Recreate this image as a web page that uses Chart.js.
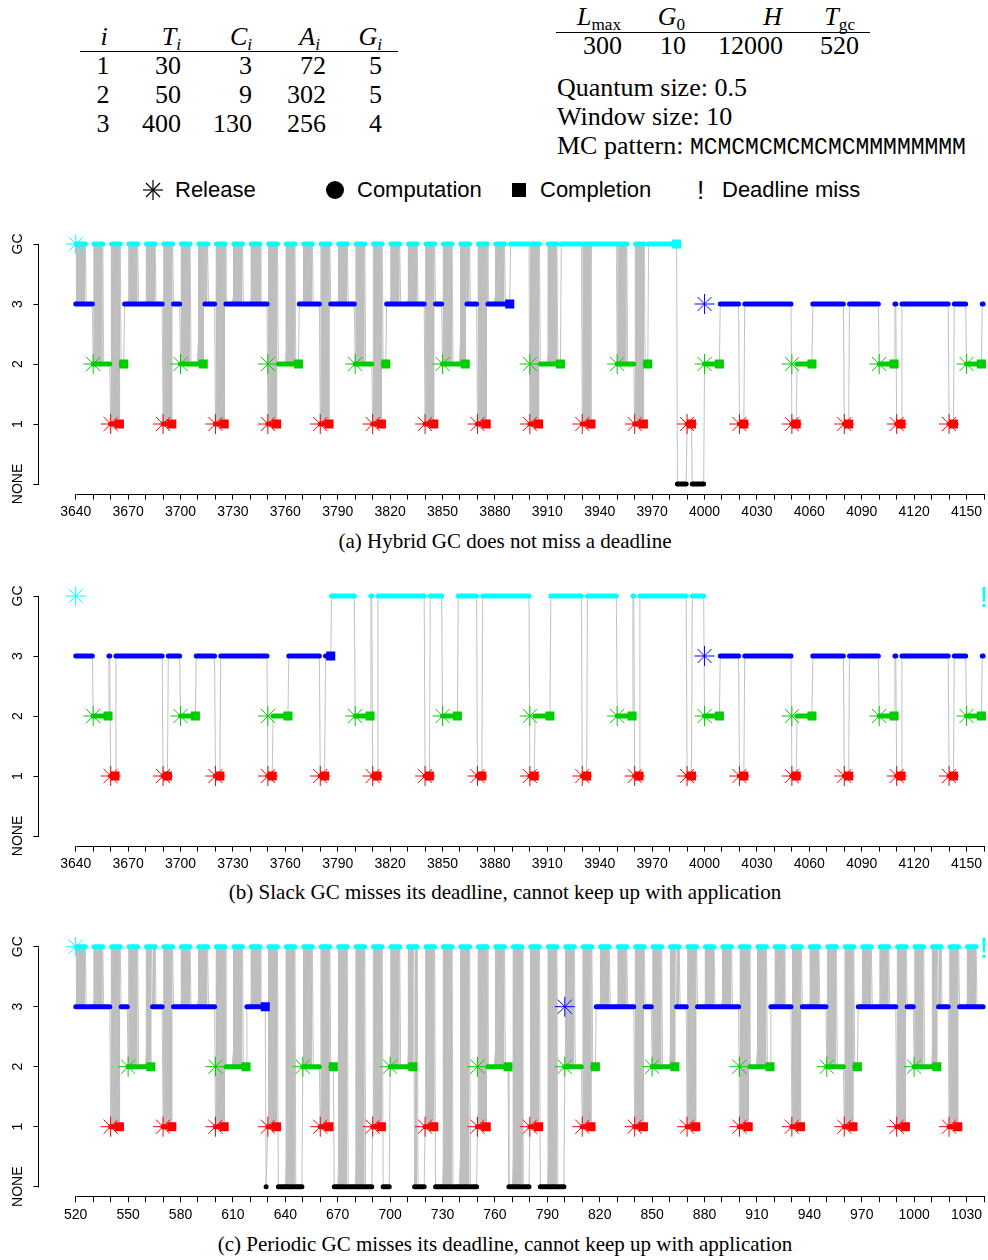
<!DOCTYPE html>
<html>
<head>
<meta charset="utf-8">
<title>GC schedules</title>
<script src="https://cdn.jsdelivr.net/npm/chart.js@4.4.1/dist/chart.umd.min.js"></script>
<style>
  html, body { margin: 0; padding: 0; background: #fff; }
  body { width: 988px; height: 1260px; position: relative; overflow: hidden;
         font-family: "Liberation Serif", "Times New Roman", serif; color: #000; }
  .t { position: absolute; white-space: nowrap; line-height: 1; font-size: 26px; }
  .r { transform: translateX(-100%); }
  .c { transform: translateX(-50%); }
  .rule { position: absolute; height: 0; border-top: 1.3px solid #000; }
  .panel { position: absolute; left: 0; }
  .cap { position: absolute; left: 0; width: 1010px; text-align: center; font-size: 21px; line-height: 1; }
  .lg { position: absolute; font-family: "Liberation Sans", Arial, sans-serif; font-size: 22px; line-height: 1; white-space: nowrap; }
  sub { font-size: 0.66em; vertical-align: -0.28em; line-height: 0; }
  .mono { font-family: "Liberation Mono", monospace; font-size: 23px; }
</style>
</head>
<body>

<!-- task table -->
<div class="t c" style="left:104px;top:24px"><i>i</i></div>
<div class="t r" style="left:181px;top:24px"><i>T<sub>i</sub></i></div>
<div class="t r" style="left:252px;top:24px"><i>C<sub>i</sub></i></div>
<div class="t r" style="left:320px;top:24px"><i>A<sub>i</sub></i></div>
<div class="t r" style="left:382px;top:24px"><i>G<sub>i</sub></i></div>
<div class="rule" style="left:80px;top:51px;width:318px"></div>
<div id="taskRows"></div>

<!-- GC parameter table -->
<div class="t r" style="left:621px;top:4px"><i>L</i><sub>max</sub></div>
<div class="t r" style="left:685px;top:4px"><i>G</i><sub>0</sub></div>
<div class="t r" style="left:782px;top:4px"><i>H</i></div>
<div class="t r" style="left:855px;top:4px"><i>T</i><sub>gc</sub></div>
<div class="rule" style="left:556px;top:32px;width:314px"></div>
<div id="gcRow"></div>

<div class="t" style="left:557px;top:75px">Quantum size: 0.5</div>
<div class="t" style="left:557px;top:104px">Window size: 10</div>
<div class="t" style="left:557px;top:133px">MC pattern: <span class="mono" id="mcPattern"></span></div>

<!-- legend -->
<svg style="position:absolute;left:142px;top:179px" width="22" height="22">
  <g stroke="#000" stroke-width="1.2">
    <line x1="1" y1="11" x2="21" y2="11"/><line x1="11" y1="1" x2="11" y2="21"/>
    <line x1="4" y1="4" x2="18" y2="18"/><line x1="4" y1="18" x2="18" y2="4"/>
  </g>
</svg>
<div class="lg" style="left:175px;top:179px">Release</div>
<svg style="position:absolute;left:325px;top:180px" width="20" height="20"><circle cx="10" cy="10" r="9" fill="#000"/></svg>
<div class="lg" style="left:357px;top:179px">Computation</div>
<svg style="position:absolute;left:512px;top:183px" width="14" height="14"><rect x="0" y="0" width="14" height="14" fill="#000"/></svg>
<div class="lg" style="left:540px;top:179px">Completion</div>
<div class="lg" style="left:697px;top:177px;font-size:26px">!</div>
<div class="lg" style="left:722px;top:179px">Deadline miss</div>

<div class="panel" style="top:224px"><canvas id="chartA" width="988" height="300"></canvas></div>
<div class="cap" style="top:531px">(a) Hybrid GC does not miss a deadline</div>
<div class="panel" style="top:576px"><canvas id="chartB" width="988" height="300"></canvas></div>
<div class="cap" style="top:882px">(b) Slack GC misses its deadline, cannot keep up with application</div>
<div class="panel" style="top:927px"><canvas id="chartC" width="988" height="300"></canvas></div>
<div class="cap" style="top:1234px">(c) Periodic GC misses its deadline, cannot keep up with application</div>

<script>
// ---- table data ----
const taskIds = [1, 2, 3];
const periods = [30, 50, 400];
const costs = [3, 9, 130];
const allocs = [72, 302, 256];
const gcShares = [5, 5, 4];
const gcParams = [300, 10, 12000, 520];   // Lmax, G0, H, Tgc
const quantum = 0.5;
const mcPattern = 'MCMCMCMCMCMCMMMMMMMM';

// ---- schedule levels ----
const GC = 4, NONE = 0;
const yTickLabels = ['NONE', '1', '2', '3', 'GC'];
const levelColors = ['#000000', '#ff0000', '#00cd00', '#0000ff', '#00ffff'];

// x tick labels
const xLabelsAB = [3640, 3670, 3700, 3730, 3760, 3790, 3820, 3850, 3880, 3910, 3940, 3970, 4000, 4030, 4060, 4090, 4120, 4150];
const xLabelsC = [520, 550, 580, 610, 640, 670, 700, 730, 760, 790, 820, 850, 880, 910, 940, 970, 1000, 1030];
const xEndAB = 4160, xEndC = 1040, minorStep = 10;

// trace runs: [start, end, level] or [start, end, mutator level, 'alt'] (alternating with GC)
const traceA = [
  [3640, 3646, 3, 'alt'], [3646, 3650, 3],
  [3650, 3656, 2, 'alt'], [3656, 3660, 2],
  [3660, 3666, 1, 'alt'], [3666, 3668, 2], [3668, 3670, 3],
  [3670, 3676, 3, 'alt'], [3676, 3680, 3],
  [3680, 3686, 3, 'alt'], [3686, 3690, 3],
  [3690, 3696, 1, 'alt'], [3696, 3700, 3],
  [3700, 3706, 2, 'alt'], [3706, 3710, 2],
  [3710, 3714, 2, 'alt'], [3714, 3716, 3, 'alt'], [3716, 3720, 3],
  [3720, 3726, 1, 'alt'], [3726, 3730, 3],
  [3730, 3736, 3, 'alt'], [3736, 3740, 3],
  [3740, 3746, 3, 'alt'], [3746, 3750, 3],
  [3750, 3756, 1, 'alt'], [3756, 3760, 2],
  [3760, 3766, 2, 'alt'], [3766, 3768, 2], [3768, 3770, 3],
  [3770, 3776, 3, 'alt'], [3776, 3780, 3],
  [3780, 3786, 1, 'alt'], [3786, 3790, 3],
  [3790, 3796, 3, 'alt'], [3796, 3800, 3],
  [3800, 3806, 2, 'alt'], [3806, 3810, 2],
  [3810, 3816, 1, 'alt'], [3816, 3818, 2], [3818, 3820, 3],
  [3820, 3826, 3, 'alt'], [3826, 3830, 3],
  [3830, 3836, 3, 'alt'], [3836, 3840, 3],
  [3840, 3846, 1, 'alt'], [3846, 3850, 3],
  [3850, 3856, 2, 'alt'], [3856, 3860, 2],
  [3860, 3864, 2, 'alt'], [3864, 3866, 3, 'alt'], [3866, 3870, 3],
  [3870, 3876, 1, 'alt'], [3876, 3880, 3],
  [3880, 3886, 3, 'alt'], [3886, 3889, 3], [3889, 3900, 4],
  [3900, 3906, 1, 'alt'], [3906, 3910, 2],
  [3910, 3916, 2, 'alt'], [3916, 3918, 2], [3918, 3930, 4],
  [3930, 3936, 1, 'alt'], [3936, 3950, 4],
  [3950, 3956, 2, 'alt'], [3956, 3960, 2],
  [3960, 3966, 1, 'alt'], [3966, 3968, 2], [3968, 3984.5, 4], [3984.5, 3990, 0],
  [3990, 3993, 1], [3993, 4000, 0],
  [4000, 4009, 2], [4009, 4020, 3], [4020, 4023, 1], [4023, 4050, 3], [4050, 4053, 1],
  [4053, 4062, 2], [4062, 4080, 3], [4080, 4083, 1], [4083, 4100, 3], [4100, 4109, 2],
  [4109, 4110, 3], [4110, 4113, 1], [4113, 4140, 3], [4140, 4143, 1], [4143, 4150, 3],
  [4150, 4159, 2], [4159, 4160, 3]
];

const traceB = [
  [3640, 3650, 3], [3650, 3659, 2], [3659, 3660, 3], [3660, 3663, 1], [3663, 3690, 3],
  [3690, 3693, 1], [3693, 3700, 3], [3700, 3709, 2], [3709, 3720, 3], [3720, 3723, 1],
  [3723, 3750, 3], [3750, 3753, 1], [3753, 3762, 2], [3762, 3780, 3], [3780, 3783, 1],
  [3783, 3786.5, 3], [3786.5, 3800, 4], [3800, 3809, 2], [3809, 3810, 4], [3810, 3813, 1],
  [3813, 3840, 4], [3840, 3843, 1], [3843, 3850, 4], [3850, 3859, 2], [3859, 3870, 4],
  [3870, 3873, 1], [3873, 3900, 4], [3900, 3903, 1], [3903, 3912, 2], [3912, 3930, 4],
  [3930, 3933, 1], [3933, 3950, 4], [3950, 3959, 2], [3959, 3960, 4], [3960, 3963, 1],
  [3963, 3990, 4], [3990, 3993, 1], [3993, 4000, 4],
  [4000, 4009, 2], [4009, 4020, 3], [4020, 4023, 1], [4023, 4050, 3], [4050, 4053, 1],
  [4053, 4062, 2], [4062, 4080, 3], [4080, 4083, 1], [4083, 4100, 3], [4100, 4109, 2],
  [4109, 4110, 3], [4110, 4113, 1], [4113, 4140, 3], [4140, 4143, 1], [4143, 4150, 3],
  [4150, 4159, 2], [4159, 4160, 3]
];

const traceC = [
  [520, 526, 3, 'alt'], [526, 530, 3],
  [530, 536, 3, 'alt'], [536, 540, 3],
  [540, 546, 1, 'alt'], [546, 550, 3],
  [550, 556, 2, 'alt'], [556, 560, 2],
  [560, 564, 2, 'alt'], [564, 566, 3, 'alt'], [566, 570, 3],
  [570, 576, 1, 'alt'], [576, 580, 3],
  [580, 586, 3, 'alt'], [586, 590, 3],
  [590, 596, 3, 'alt'], [596, 600, 3],
  [600, 606, 1, 'alt'], [606, 610, 2],
  [610, 616, 2, 'alt'], [616, 618, 2], [618, 620, 3],
  [620, 626, 3, 'alt'], [626, 629, 3], [629, 630, 0],
  [630, 636, 1, 'alt'], [636, 640, 0],
  [640, 646, 0, 'alt'], [646, 650, 0],
  [650, 656, 2, 'alt'], [656, 660, 2],
  [660, 666, 1, 'alt'], [666, 668, 2], [668, 670, 0],
  [670, 676, 0, 'alt'], [676, 680, 0],
  [680, 686, 0, 'alt'], [686, 690, 0],
  [690, 696, 1, 'alt'], [696, 700, 0],
  [700, 706, 2, 'alt'], [706, 710, 2],
  [710, 714, 2, 'alt'], [714, 716, 0, 'alt'], [716, 720, 0],
  [720, 726, 1, 'alt'], [726, 730, 0],
  [730, 736, 0, 'alt'], [736, 740, 0],
  [740, 746, 0, 'alt'], [746, 750, 0],
  [750, 756, 1, 'alt'], [756, 760, 2],
  [760, 766, 2, 'alt'], [766, 768, 2], [768, 770, 0],
  [770, 776, 0, 'alt'], [776, 780, 0],
  [780, 786, 1, 'alt'], [786, 790, 0],
  [790, 796, 0, 'alt'], [796, 800, 0],
  [800, 806, 2, 'alt'], [806, 810, 2],
  [810, 816, 1, 'alt'], [816, 818, 2], [818, 820, 3],
  [820, 826, 3, 'alt'], [826, 830, 3],
  [830, 836, 3, 'alt'], [836, 840, 3],
  [840, 846, 1, 'alt'], [846, 850, 3],
  [850, 856, 2, 'alt'], [856, 860, 2],
  [860, 864, 2, 'alt'], [864, 866, 3, 'alt'], [866, 870, 3],
  [870, 876, 1, 'alt'], [876, 880, 3],
  [880, 886, 3, 'alt'], [886, 890, 3],
  [890, 896, 3, 'alt'], [896, 900, 3],
  [900, 906, 1, 'alt'], [906, 910, 2],
  [910, 916, 2, 'alt'], [916, 918, 2], [918, 920, 3],
  [920, 926, 3, 'alt'], [926, 930, 3],
  [930, 936, 1, 'alt'], [936, 940, 3],
  [940, 946, 3, 'alt'], [946, 950, 3],
  [950, 956, 2, 'alt'], [956, 960, 2],
  [960, 966, 1, 'alt'], [966, 968, 2], [968, 970, 3],
  [970, 976, 3, 'alt'], [976, 980, 3],
  [980, 986, 3, 'alt'], [986, 990, 3],
  [990, 996, 1, 'alt'], [996, 1000, 3],
  [1000, 1006, 2, 'alt'], [1006, 1010, 2],
  [1010, 1014, 2, 'alt'], [1014, 1016, 3, 'alt'], [1016, 1020, 3],
  [1020, 1026, 1, 'alt'], [1026, 1030, 3],
  [1030, 1036, 3, 'alt'], [1036, 1040, 3]
];

// releases
const relGcAB = [3640];
const relT3AB = [4000];
const relT2AB = [3650, 3700, 3750, 3800, 3850, 3900, 3950, 4000, 4050, 4100, 4150];
const relT1AB = [3660, 3690, 3720, 3750, 3780, 3810, 3840, 3870, 3900, 3930, 3960, 3990, 4020, 4050, 4080, 4110, 4140];
const relGcC = [520];
const relT3C = [800];
const relT2C = [550, 600, 650, 700, 750, 800, 850, 900, 950, 1000];
const relT1C = [540, 570, 600, 630, 660, 690, 720, 750, 780, 810, 840, 870, 900, 930, 960, 990, 1020];

// completions
const doneGcA = [3984];
const doneT3A = [3888.5];
const doneT2A = [3667.5, 3713, 3767.5, 3817.5, 3863, 3917.5, 3967.5, 4008.5, 4061.5, 4108.5, 4158.5];
const doneT1A = [3665, 3695, 3725, 3755, 3785, 3815, 3845, 3875, 3905, 3935, 3965, 3992.5, 4022.5, 4052.5, 4082.5, 4112.5, 4142.5];
const doneGcB = [];
const doneT3B = [3786];
const doneT2B = [3658.5, 3708.5, 3761.5, 3808.5, 3858.5, 3911.5, 3958.5, 4008.5, 4061.5, 4108.5, 4158.5];
const doneT1B = [3662.5, 3692.5, 3722.5, 3752.5, 3782.5, 3812.5, 3842.5, 3872.5, 3902.5, 3932.5, 3962.5, 3992.5, 4022.5, 4052.5, 4082.5, 4112.5, 4142.5];
const doneGcC = [];
const doneT3C = [628.5];
const doneT2C = [563, 617.5, 667.5, 713, 767.5, 817.5, 863, 917.5, 967.5, 1013];
const doneT1C = [545, 575, 605, 635, 665, 695, 725, 755, 785, 815, 845, 875, 905, 935, 965, 995, 1025];

// deadline misses (GC)
const missA = [];
const missB = [4160];
const missC = [1040];

// ---- header tables ----
function cell(html, x, y, cls) {
  const d = document.createElement('div');
  d.className = 't ' + cls;
  d.style.left = x + 'px';
  d.style.top = y + 'px';
  d.innerHTML = html;
  document.body.appendChild(d);
}
const rowTops = [53, 82, 111];
const colRights = [181, 252, 326, 382];
taskIds.forEach((id, r) => {
  cell(String(id), 103, rowTops[r], 'c');
  [periods[r], costs[r], allocs[r], gcShares[r]].forEach((v, c) => cell(String(v), colRights[c], rowTops[r], 'r'));
});
const gcRights = [622, 686, 783, 859];
gcParams.forEach((v, c) => cell(String(v), gcRights[c], 33, 'r'));
document.getElementById('mcPattern').textContent = mcPattern;

// ---- chart helpers ----
const bang = document.createElement('canvas');
bang.width = 14; bang.height = 32;
(function () {
  const c = bang.getContext('2d');
  c.fillStyle = levelColors[GC];
  c.font = '30px "Liberation Sans"';
  c.textAlign = 'center';
  c.textBaseline = 'alphabetic';
  c.fillText('!', 7, 26.7);
})();

function computationLine(trace, level) {
  const pts = [];
  const seg = (a, b) => { pts.push({x: a, y: level}, {x: b, y: level}, {x: b, y: null}); };
  trace.forEach(([t0, t1, lvl, mode]) => {
    if (mode === 'alt') {
      if (level === GC) seg(t0 + quantum, t1 - quantum);
      if (level === lvl) seg(t0, t1 - 2 * quantum);
    } else if (lvl === level) {
      seg(t0, t1 - quantum);
    }
  });
  return pts;
}

function tracePath(trace) {
  const pts = [];
  trace.forEach(([t0, t1, lvl, mode]) => {
    pts.push({x: t0, y: lvl}, {x: t1 - quantum, y: mode === 'alt' ? GC : lvl});
  });
  return pts;
}

function markers(values, level, style, radius, order) {
  return {
    data: values.map(v => ({x: v, y: level})),
    showLine: false,
    pointStyle: style,
    pointRadius: radius,
    pointBackgroundColor: levelColors[level],
    pointBorderColor: levelColors[level],
    pointBorderWidth: style === 'star' ? 1 : 0,
    order: order
  };
}

function buildDatasets(trace, rel, done, miss) {
  const ds = [];
  // dense alternation between GC and mutator
  trace.filter(e => e[3] === 'alt').forEach(([t0, t1, lvl]) => {
    ds.push({
      data: [{x: t0, y: GC}, {x: t1 - quantum, y: GC}],
      fill: {value: lvl},
      backgroundColor: '#bebebe',
      borderColor: 'rgba(0,0,0,0)',
      pointRadius: 0,
      order: 10
    });
  });
  ds.push({data: tracePath(trace), borderColor: '#c2c2c2', borderWidth: 1, pointRadius: 0, fill: false, order: 9});
  [GC, 3, 2, 1, NONE].forEach(level => {
    ds.push({
      data: computationLine(trace, level),
      borderColor: levelColors[level],
      borderWidth: 5,
      borderCapStyle: 'round',
      borderJoinStyle: 'round',
      pointRadius: 0,
      fill: false,
      order: 5
    });
  });
  [GC, 3, 2, 1].forEach((level, i) => {
    ds.push(markers(done[i], level, 'rect', 6.4, 3));
    ds.push(markers(rel[i], level, 'star', 10, 2));
  });
  ds.push({data: miss.map(v => ({x: v, y: GC})), showLine: false, pointStyle: bang, pointRadius: 10, order: 1});
  return ds;
}

// R-like axis lines spanning only the tick range
const rAxes = {
  id: 'rAxes',
  afterDraw(chart) {
    const {ctx, chartArea, scales: {x, y}} = chart;
    const xt = x.ticks, yt = y.ticks;
    const by = Math.round(chartArea.bottom) + 0.5;
    const lx = Math.round(chartArea.left) - 0.5;
    ctx.save();
    ctx.strokeStyle = '#000';
    ctx.lineWidth = 1;
    ctx.beginPath();
    ctx.moveTo(Math.round(x.getPixelForValue(xt[0].value)) + 0.5, by);
    ctx.lineTo(Math.round(x.getPixelForValue(xt[xt.length - 1].value)) + 0.5, by);
    ctx.moveTo(lx, Math.round(y.getPixelForValue(yt[yt.length - 1].value)) + 0.5);
    ctx.lineTo(lx, Math.round(y.getPixelForValue(yt[0].value)) + 0.5);
    ctx.stroke();
    ctx.restore();
  }
};

function makeChart(id, padTop, trace, rel, done, miss, xMin, xMax, xLabels, xEnd) {
  const xTicks = [];
  for (let v = xLabels[0]; v <= xEnd; v += minorStep) xTicks.push(v);
  const tickFont = {family: '"Liberation Sans", Arial, sans-serif', size: 14};
  return new Chart(document.getElementById(id), {
    type: 'line',
    data: {datasets: buildDatasets(trace, rel, done, miss)},
    options: {
      responsive: false,
      animation: false,
      devicePixelRatio: 1,
      events: [],
      layout: {autoPadding: false, padding: {top: padTop, bottom: 300 - padTop - 259.2 - 30, left: 0, right: 0}},
      plugins: {legend: {display: false}, tooltip: {enabled: false}},
      scales: {
        x: {
          type: 'linear', min: xMin, max: xMax, bounds: 'data',
          afterBuildTicks: s => { s.ticks = xTicks.map(v => ({value: v})); },
          afterFit: s => { s.height = 30; },
          border: {display: false},
          grid: {drawOnChartArea: false, drawTicks: true, tickLength: 6, color: '#000', lineWidth: 1},
          ticks: {autoSkip: false, minRotation: 0, maxRotation: 0, padding: 4, color: '#000', font: tickFont,
                  callback: v => xLabels.includes(v) ? String(v) : ''}
        },
        y: {
          type: 'linear', min: -0.16, max: 4.16, bounds: 'data',
          afterBuildTicks: s => { s.ticks = yTickLabels.map((l, i) => ({value: i})); },
          afterFit: s => { s.width = 39.4; },
          border: {display: false},
          grid: {drawOnChartArea: false, drawTicks: true, tickLength: 6, color: '#000', lineWidth: 1},
          ticks: {minRotation: 90, maxRotation: 90, crossAlign: 'center', padding: -5.4, color: '#000', font: tickFont,
                  callback: v => yTickLabels[v]}
        }
      }
    },
    plugins: [rAxes]
  });
}

makeChart('chartA', 10.4, traceA, [relGcAB, relT3AB, relT2AB, relT1AB], [doneGcA, doneT3A, doneT2A, doneT1A], missA,
          3619.2, 4162.2, xLabelsAB, xEndAB);
makeChart('chartB', 10.4, traceB, [relGcAB, relT3AB, relT2AB, relT1AB], [doneGcB, doneT3B, doneT2B, doneT1B], missB,
          3619.2, 4162.2, xLabelsAB, xEndAB);
makeChart('chartC', 10.1, traceC, [relGcC, relT3C, relT2C, relT1C], [doneGcC, doneT3C, doneT2C, doneT1C], missC,
          499.2, 1042.2, xLabelsC, xEndC);
</script>
</body>
</html>
